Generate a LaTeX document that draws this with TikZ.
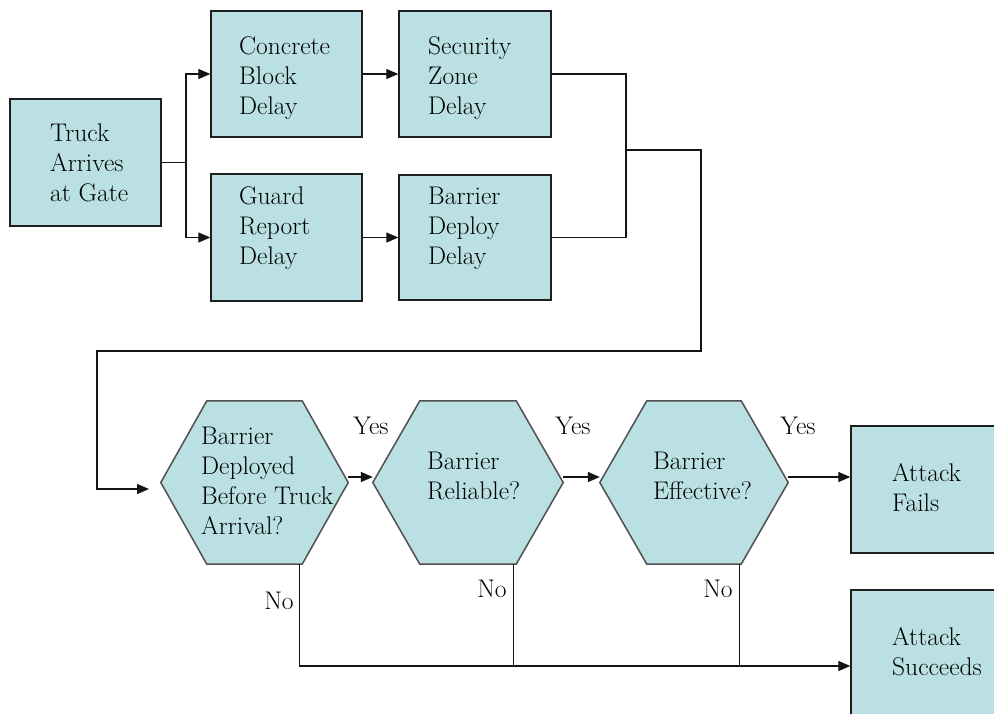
\documentclass[tikz,border=0pt]{standalone}
\usetikzlibrary{arrows.meta,calc}
\definecolor{boxfill}{RGB}{186,224,227}
\definecolor{boxline}{RGB}{30,30,30}
\definecolor{hexline}{RGB}{80,80,80}
\definecolor{conn}{RGB}{20,20,20}
\begin{document}
\begin{tikzpicture}[x=1pt,y=-1pt,
  box/.style={draw=boxline,fill=boxfill,line width=1.4pt,inner sep=0pt},
  hexnode/.style={inner sep=0pt,minimum height=163pt},
  hexshape/.style={draw=hexline,fill=boxfill,line width=1.5pt,line join=round},
  txt/.style={anchor=west,align=left,inner sep=0pt,font=\rmfamily\fontsize{25.5}{30}\selectfont},
  lbl/.style={inner sep=0pt,font=\rmfamily\fontsize{25.5}{30}\selectfont},
  line/.style={draw=conn,line width=1.3pt},
  arr/.style={line,-{Triangle[length=12pt,width=10pt]}}]
\useasboundingbox (0,0) rectangle (994,713);
\clip (0,0) rectangle (994,713);
\fill[white] (0,0) rectangle (994,713);

% rectangular boxes
\node[box,minimum width=151pt,minimum height=127pt] (truck) at (85.5,162.5) {};
\node[box,minimum width=151pt,minimum height=126pt] (concrete) at (286.5,74) {};
\node[box,minimum width=151pt,minimum height=127pt] (guard) at (286.5,237.5) {};
\node[box,minimum width=152pt,minimum height=126pt] (security) at (475,74) {};
\node[box,minimum width=152pt,minimum height=125pt] (deploy) at (475,237.5) {};
\node[box,minimum width=180pt,minimum height=127pt] (fails) at (941,489.5) {};
\node[box,minimum width=180pt,minimum height=127pt] (succeeds) at (941,653.5) {};

% hexagons
\node[hexnode,minimum width=187pt] (h1) at (254.5,482.5) {};
\node[hexnode,minimum width=190pt] (h2) at (468,482.5) {};
\node[hexnode,minimum width=188pt] (h3) at (694,482.5) {};
\foreach \h/\d in {h1/46,h2/47,h3/47}{
  \draw[hexshape] (\h.west) -- ([xshift=\d pt]\h.north west) -- ([xshift=-\d pt]\h.north east)
    -- (\h.east) -- ([xshift=-\d pt]\h.south east) -- ([xshift=\d pt]\h.south west) -- cycle;
}

% texts
\node[txt] (ttruck) at (50,165) {\strut Truck\\Arrives\\at Gate\strut};
\node[txt] (tconcrete) at (239,78) {\strut Concrete\\Block\\Delay\strut};
\node[txt] (tsecurity) at (428,78) {\strut Security\\Zone\\Delay\strut};
\node[txt] (tguard) at (239,228.5) {\strut Guard\\Report\\Delay\strut};
\node[txt] (tdeploy) at (428,228.5) {\strut Barrier\\Deploy\\Delay\strut};
\node[txt] (th1) at (201,483.5) {\strut Barrier\\Deployed\\Before Truck\\Arrival?\strut};
\node[txt] (th2) at (427,478) {\strut Barrier\\Reliable?\strut};
\node[txt] (th3) at (653,478) {\strut Barrier\\Effective?\strut};
\node[txt] (tfails) at (892,490.5) {\strut Attack\\Fails\strut};
\node[txt] (tsucceeds) at (892,654) {\strut Attack\\Succeeds\strut};

% connectors, top part
\coordinate (split) at (186,162.5);
\draw[line] (truck.east) -- (split);
\draw[arr] (split) |- (concrete.west);
\draw[arr] (split) |- (guard.west);
\draw[arr] (concrete.east) -- (security.west);
\draw[arr] (guard.east) -- (deploy.west);
\coordinate (merge) at (626,150);
\draw[line] (security.east) -| (merge);
\draw[line] (deploy.east) -| (merge);
\coordinate (entry) at (149,489);
\draw[arr] (merge) -- (701,150) -- (701,351) -- (97,351) |- (entry);

% connectors, decision part
\draw[arr] ([yshift=5.5pt]h1.east) -- ([yshift=5.5pt]h2.west);
\draw[arr] ([yshift=5.5pt]h2.east) -- ([yshift=5.5pt]h3.west);
\draw[arr] ([yshift=5.5pt]h3.east) -- ([yshift=5.5pt]h3.east -| fails.west);
\coordinate (no1) at ([xshift=-49pt]h1.south east);
\coordinate (no2) at ([xshift=-50pt]h2.south east);
\coordinate (no3) at ([xshift=-49pt]h3.south east);
\draw[arr] (no1) |- ([yshift=-12.5pt]succeeds.west);
\draw[line] (no2) -- (no2 |- 0,666);
\draw[line] (no3) -- (no3 |- 0,666);

% labels
\node[lbl] (yes1) at (371,426) {Yes};
\node[lbl] (yes2) at (573,426) {Yes};
\node[lbl] (yes3) at (798,426) {Yes};
\node[lbl] (noa) at (279,601) {No};
\node[lbl] (nob) at (492,589) {No};
\node[lbl] (noc) at (718,589) {No};
\end{tikzpicture}
\end{document}
